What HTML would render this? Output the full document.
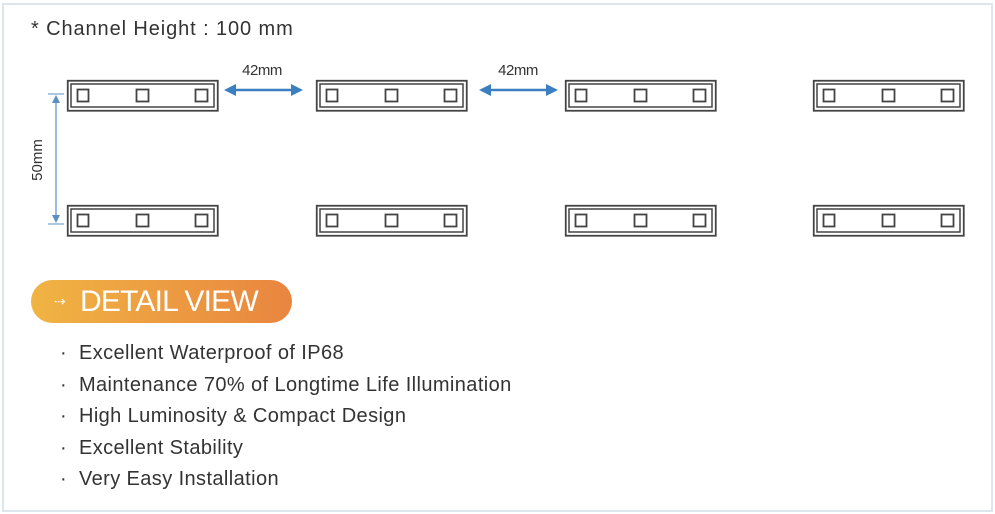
<!DOCTYPE html>
<html><head><meta charset="utf-8"><style>
html,body{margin:0;padding:0;background:#fff;}
body{width:995px;height:514px;position:relative;overflow:hidden;font-family:"Liberation Sans",Arial,sans-serif;}
.frame{position:absolute;left:2px;top:3px;width:987px;height:505px;border:2px solid #dde6ee;}
.t{position:absolute;color:#333;font-size:20px;white-space:nowrap;letter-spacing:0.4px;}
.pill{position:absolute;left:31px;top:280px;width:261px;height:43px;border-radius:22px;background:linear-gradient(90deg,#f0b443,#e98540);}
.pill span{position:absolute;left:49px;top:5px;color:#fff;font-size:30px;letter-spacing:-0.8px;}
.pill i{position:absolute;left:23px;top:13px;color:#fff;font-style:normal;font-size:14px;opacity:.85;}
</style></head><body>
<div class="frame"></div>
<div class="t" style="left:31px;top:18px;letter-spacing:0.9px;">* Channel Height : 100 mm</div>
<svg width="995" height="514" style="position:absolute;left:0;top:0">
<defs>
<g id="m">
<rect x="0.75" y="0.75" width="150" height="30" fill="#fff" stroke="#444" stroke-width="1.8"/>
<rect x="4" y="4" width="143" height="23" fill="none" stroke="#444" stroke-width="1.5"/>
<rect x="10.5" y="9.5" width="11" height="12" fill="#fff" stroke="#444" stroke-width="1.8"/>
<rect x="69.5" y="9.5" width="12" height="12" fill="#fff" stroke="#444" stroke-width="1.8"/>
<rect x="128.5" y="9.5" width="12" height="12" fill="#fff" stroke="#444" stroke-width="1.8"/>
</g>
</defs>
<use href="#m" x="67" y="80"/><use href="#m" x="316" y="80"/><use href="#m" x="565" y="80"/><use href="#m" x="813" y="80"/>
<use href="#m" x="67" y="205"/><use href="#m" x="316" y="205"/><use href="#m" x="565" y="205"/><use href="#m" x="813" y="205"/>
<line x1="232" y1="90" x2="295" y2="90" stroke="#3b7fc0" stroke-width="2.5"/>
<path d="M224,90 L236,84 L236,96z M303,90 L291,84 L291,96z" fill="#3b7fc0"/>
<line x1="487" y1="90" x2="550" y2="90" stroke="#3b7fc0" stroke-width="2.5"/>
<path d="M479,90 L491,84 L491,96z M558,90 L546,84 L546,96z" fill="#3b7fc0"/>
<text x="262" y="75" font-size="15" fill="#333" text-anchor="middle" font-family="Liberation Sans,Arial,sans-serif" letter-spacing="-0.5">42mm</text>
<text x="518" y="75" font-size="15" fill="#333" text-anchor="middle" font-family="Liberation Sans,Arial,sans-serif" letter-spacing="-0.5">42mm</text>
<line x1="48" y1="94" x2="64" y2="94" stroke="#5a8fc4" stroke-width="1"/>
<line x1="48" y1="224" x2="64" y2="224" stroke="#5a8fc4" stroke-width="1"/>
<line x1="56" y1="97" x2="56" y2="221" stroke="#5a8fc4" stroke-width="1.2"/>
<path d="M52,103 L56,95 L60,103z M52,215 L56,223 L60,215z" fill="#5a8fc4"/>
<text transform="translate(42,160) rotate(-90)" font-size="15" fill="#333" text-anchor="middle" font-family="Liberation Sans,Arial,sans-serif">50mm</text>
</svg>
<div class="pill"><i>⇢</i><span>DETAIL VIEW</span></div>
<div class="t" style="left:60px;top:342px;">· &nbsp;Excellent Waterproof of IP68</div>
<div class="t" style="left:60px;top:374px;">· &nbsp;Maintenance 70% of Longtime Life Illumination</div>
<div class="t" style="left:60px;top:405px;">· &nbsp;High Luminosity &amp; Compact Design</div>
<div class="t" style="left:60px;top:437px;">· &nbsp;Excellent Stability</div>
<div class="t" style="left:60px;top:468px;">· &nbsp;Very Easy Installation</div>
</body></html>
